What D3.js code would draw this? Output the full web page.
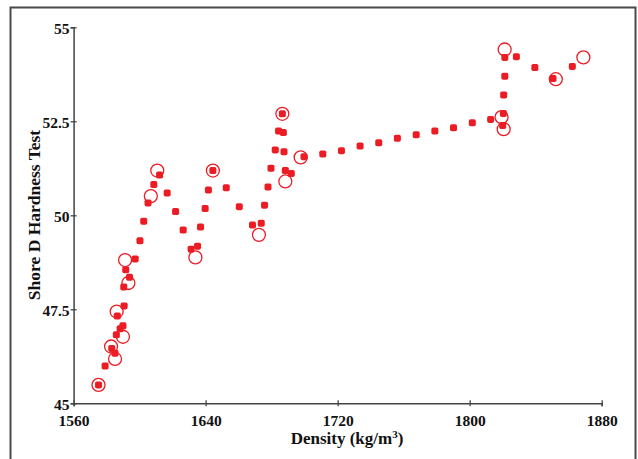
<!DOCTYPE html>
<html>
<head>
<meta charset="utf-8">
<script src="https://cdn.jsdelivr.net/npm/d3@7"></script>
<style>
  body { margin: 0; background: #fff; }
  text { font-family: "Liberation Serif", "Times New Roman", serif; font-weight: bold; }
</style>
</head>
<body>
<div id="chart"></div>
<script>
// filled squares: density, hardness
let fillX = [1575.1, 1579.1, 1583.1, 1585.1, 1585.9, 1588.2, 1589.9, 1586.5, 1590.6, 1590.4,
    1593.9, 1591.6, 1597.3, 1600.2, 1602.5, 1605.1, 1608.6, 1612.1, 1616.7, 1621.8,
    1626.4, 1631.2, 1635.1, 1636.9, 1639.7, 1641.7, 1644.4, 1652.5, 1660.4, 1668.4,
    1673.7, 1675.7, 1677.8, 1679.6, 1682.2, 1687.5, 1684.2, 1687.1, 1686.5, 1688.3,
    1691.9, 1699.6, 1711.0, 1722.3, 1733.6, 1744.9, 1756.2, 1767.6, 1778.9, 1790.2,
    1801.6, 1812.7, 1820.4, 1820.0, 1820.6, 1821.3, 1821.3, 1828.3, 1839.5, 1850.5, 1862.2];
let fillY = [45.49, 45.99, 46.46, 46.33, 46.82, 46.98, 47.06, 47.32, 47.59, 48.09,
    48.35, 48.55, 48.84, 49.32, 49.84, 50.33, 50.82, 51.07, 50.59, 50.10,
    49.61, 49.10, 49.18, 49.69, 50.18, 50.67, 51.19, 50.73, 50.23, 49.74,
    49.79, 50.27, 50.75, 51.25, 51.74, 51.69, 52.24, 52.20, 52.70, 51.19,
    51.11, 51.56, 51.63, 51.72, 51.84, 51.93, 52.05, 52.14, 52.24, 52.33,
    52.46, 52.55, 52.71, 52.39, 53.20, 53.70, 54.20, 54.22, 53.93, 53.64, 53.96];

// open circles
let ringX = [1575.1, 1582.7, 1585.1, 1589.9, 1586.1, 1593.2, 1591.2, 1606.8, 1610.7, 1633.8,
    1644.4, 1672.3, 1686.5, 1688.3, 1697.6, 1819.3, 1820.6, 1821.2, 1852.2, 1868.9];
let ringY = [45.49, 46.51, 46.18, 46.77, 47.44, 48.20, 48.81, 50.51, 51.19, 48.88,
    51.19, 49.48, 52.70, 50.90, 51.54, 52.61, 52.29, 54.41, 53.62, 54.20];

let xTicks = [1560, 1640, 1720, 1800, 1880];
let yTicks = [45, 47.5, 50, 52.5, 55];

let width = 638, height = 459;
let red = "#ec1c24";

let svg = d3.select('#chart')
    .append('svg')
    .attr('width', width)
    .attr('height', height);

// outer frame
svg.append('rect')
    .attr('x', 10.5)
    .attr('y', 7.5)
    .attr('width', 625)
    .attr('height', 470)
    .attr('fill', 'none')
    .attr('stroke', '#4a4a4a')
    .attr('stroke-width', 2);

let x = d3.scaleLinear().domain([1560, 1880]).range([73.6, 601.7]);
let y = d3.scaleLinear().domain([45, 55]).range([403.3, 27.3]);

let xAxis = svg.append('g')
    .attr('transform', 'translate(0,403.3)')
    .call(d3.axisBottom(x).tickValues(xTicks).tickFormat(d3.format('d')).tickSize(3).tickPadding(6));
xAxis.selectAll('.tick line').attr('y1', -3).attr('y2', 3);
xAxis.selectAll('.tick text').attr('font-size', 15.5).attr('dy', '0.9em');

let yAxis = svg.append('g')
    .attr('transform', 'translate(73.6,0)')
    .call(d3.axisLeft(y).tickValues(yTicks).tickFormat(d => d).tickSize(3).tickPadding(1));
yAxis.selectAll('.tick line').attr('x1', -3).attr('x2', 3);
yAxis.selectAll('.tick text').attr('font-size', 15.5).attr('dy', '0.4em');

svg.selectAll('.domain').attr('stroke', '#444').attr('stroke-width', 1.5);
svg.selectAll('.tick line').attr('stroke', '#444').attr('stroke-width', 1.3);
svg.selectAll('.tick text').attr('fill', '#111').style('font-family', '"Liberation Serif", serif');

// axis titles
svg.append('text')
    .attr('x', 347)
    .attr('y', 444)
    .attr('text-anchor', 'middle')
    .attr('font-size', 17)
    .attr('fill', '#111')
    .html('Density (kg/m<tspan dy="-6" font-size="11">3</tspan><tspan dy="6">)</tspan>');

svg.append('text')
    .attr('transform', 'translate(40,215) rotate(-90)')
    .attr('text-anchor', 'middle')
    .attr('font-size', 17.5)
    .attr('fill', '#111')
    .text('Shore D Hardness Test');

// circles
ringX.forEach(function (d, i) {
    svg.append('circle')
        .attr('cx', x(d))
        .attr('cy', y(ringY[i]))
        .attr('r', 6.5)
        .attr('fill', 'none')
        .attr('stroke', red)
        .attr('stroke-width', 1.3);
});

// squares
fillX.forEach(function (d, i) {
    svg.append('rect')
        .attr('x', x(d) - 3.5)
        .attr('y', y(fillY[i]) - 3.5)
        .attr('width', 7)
        .attr('height', 7)
        .attr('rx', 1.8)
        .attr('fill', red);
});
</script>
</body>
</html>
